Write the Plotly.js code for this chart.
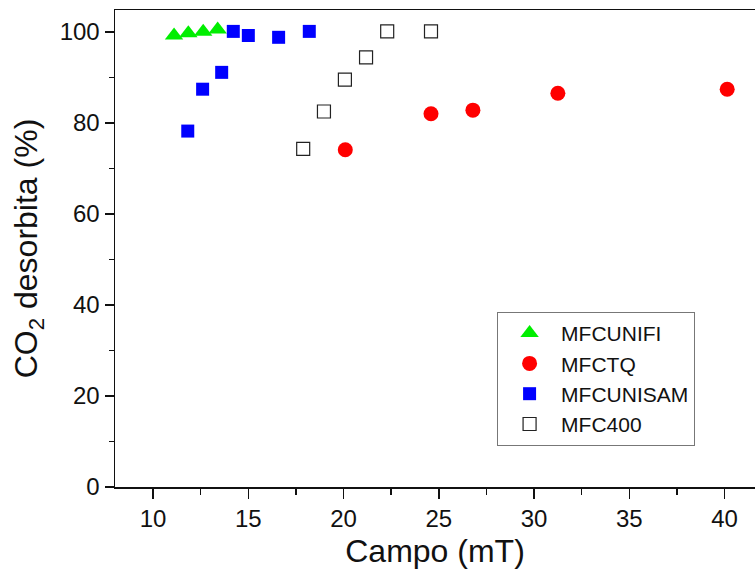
<!DOCTYPE html>
<html>
<head>
<meta charset="utf-8">
<script src="https://cdn.plot.ly/plotly-3.0.1.min.js"></script>
<style>html,body{margin:0;padding:0;background:#fff;}#chart{width:755px;height:581px;}</style>
</head>
<body>
<div id="chart"></div>
<script>
// Data
const unifiX = [11.10, 11.85, 12.63, 13.39];
const unifiY = [99.2, 99.7, 100.0, 100.5];

const ctqX = [20.09, 24.59, 26.79, 31.25, 40.14];
const ctqY = [74.1, 82.0, 82.8, 86.5, 87.4];

const unisamX = [11.82, 12.60, 13.60, 14.21, 15.00, 16.59, 18.20];
const unisamY = [78.2, 87.4, 91.1, 100.1, 99.2, 98.8, 100.1];

const m400X = [17.88, 18.97, 20.07, 21.18, 22.29, 24.59];
const m400Y = [74.3, 82.5, 89.5, 94.4, 100.1, 100.1];

const seriesNames = ['MFCUNIFI', 'MFCTQ', 'MFCUNISAM', 'MFC400'];
const xTitle = 'Campo (mT)';
const yTitle = 'CO<sub>2</sub> desorbita (%)';

const FONT = 'Liberation Sans, Arial, sans-serif';

const traces = [
  {x: unifiX, y: unifiY, name: seriesNames[0], type: 'scatter', mode: 'markers',
   marker: {symbol: 'triangle-up', size: 16, color: '#00ee00', line: {width: 0}}},
  {x: ctqX, y: ctqY, name: seriesNames[1], type: 'scatter', mode: 'markers',
   marker: {symbol: 'circle', size: 15, color: '#ff0000', line: {width: 0}}},
  {x: unisamX, y: unisamY, name: seriesNames[2], type: 'scatter', mode: 'markers',
   marker: {symbol: 'square', size: 13, color: '#0000ff', line: {width: 0}}},
  {x: m400X, y: m400Y, name: seriesNames[3], type: 'scatter', mode: 'markers',
   marker: {symbol: 'square', size: 13, color: '#ffffff', line: {width: 1.2, color: '#222222'}}}
];

const layout = {
  width: 755, height: 581,
  margin: {l: 115, r: 0, t: 10, b: 94},
  paper_bgcolor: '#ffffff', plot_bgcolor: '#ffffff',
  font: {family: FONT, color: '#111111'},
  showlegend: true,
  legend: {
    x: 0.597, y: 0.367, xanchor: 'left', yanchor: 'top',
    bgcolor: '#ffffff', bordercolor: '#777777', borderwidth: 1,
    font: {family: FONT, size: 21, color: '#111111'},
    itemwidth: 53, tracegroupgap: 0
  },
  xaxis: {
    range: [8, 41.6], tick0: 10, dtick: 5, tickmode: 'linear',
    showline: true, linecolor: '#111111', linewidth: 1.5, mirror: true,
    ticks: 'outside', ticklen: 10, tickwidth: 1.5, tickcolor: '#111111',
    minor: {dtick: 2.5, tick0: 10, ticks: 'outside', ticklen: 6, tickwidth: 1.5, tickcolor: '#111111'},
    showgrid: false, zeroline: false,
    tickfont: {family: FONT, size: 24, color: '#111111'},
    title: {text: xTitle, standoff: 8, font: {family: FONT, size: 32, color: '#111111'}}
  },
  yaxis: {
    range: [0, 104.8], tick0: 0, dtick: 20, tickmode: 'linear',
    showline: true, linecolor: '#111111', linewidth: 1.5, mirror: false,
    ticks: 'outside', ticklen: 9, tickwidth: 1.5, tickcolor: '#111111',
    minor: {dtick: 10, tick0: 0, ticks: 'outside', ticklen: 5, tickwidth: 1.5, tickcolor: '#111111'},
    showgrid: false, zeroline: false,
    tickfont: {family: FONT, size: 24, color: '#111111'},
    title: {text: yTitle, standoff: 12, font: {family: FONT, size: 32, color: '#111111'}}
  }
};

Plotly.newPlot('chart', traces, layout, {displayModeBar: false, staticPlot: true});
</script>
</body>
</html>
